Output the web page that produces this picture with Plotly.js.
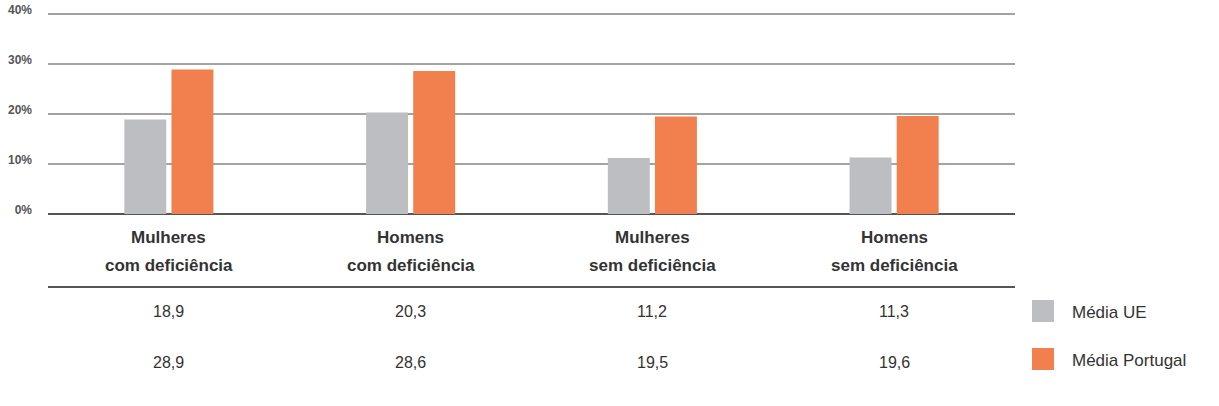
<!DOCTYPE html>
<html>
<head>
<meta charset="utf-8">
<script src="https://cdn.plot.ly/plotly-3.0.1.min.js"></script>
<style>html,body{margin:0;padding:0;background:#fff;}#chart{width:1219px;height:406px;}</style>
</head>
<body>
<div id="chart"></div>
<script>
const categories = ["Mulheres<br>com deficiência", "Homens<br>com deficiência", "Mulheres<br>sem deficiência", "Homens<br>sem deficiência"];
const seriesNames = ["Média UE", "Média Portugal"];
const mediaUE = [18.9, 20.3, 11.2, 11.3];
const mediaPortugal = [28.9, 28.6, 19.5, 19.6];
const yTickVals = [0, 10, 20, 30, 40];
const yTickText = ["0%", "10%", "20%", "30%", "40%"];

const colors = ["#bdbec1", "#f2804f"];
const textColor = "#333333";
const fontFam = "'Liberation Sans', Arial, sans-serif";

// pixel geometry of the plot area (range padded slightly so the 40% grid line is drawn)
const W = 1219, H = 406, L = 48, R = 1015, B = 214;
const yMax = 40.4;
const T = B - 5 * yMax; // 5 px per percentage point
const py = p => (B - p) / (B - T);
const px = p => (p - L) / (R - L);

const traces = [mediaUE, mediaPortugal].map((vals, i) => ({
  type: "bar",
  name: seriesNames[i],
  x: categories,
  y: vals,
  marker: {color: colors[i], line: {width: 0}},
  hoverinfo: "none",
  showlegend: false
}));

const annotations = [];
const fmt = v => v.toFixed(1).replace(".", ",");
categories.forEach((c, i) => {
  const lines = c.split("<br>");
  lines.forEach((ln, j) => {
    annotations.push({
      x: c, xref: "x", y: py(237 + j * 28), yref: "paper",
      text: ln, showarrow: false, xanchor: "center", yanchor: "middle",
      font: {family: fontFam, size: 17, color: textColor, weight: "bold"}
    });
  });
  [mediaUE, mediaPortugal].forEach((vals, k) => {
    annotations.push({
      x: c, xref: "x", y: py(k === 0 ? 311 : 362), yref: "paper",
      text: fmt(vals[i]), showarrow: false, xanchor: "center", yanchor: "middle",
      font: {family: fontFam, size: 16, color: textColor}
    });
  });
});
seriesNames.forEach((n, k) => {
  annotations.push({
    x: px(1070), xref: "paper", y: py(k === 0 ? 312 : 360), yref: "paper",
    text: n, showarrow: false, xanchor: "left", yanchor: "middle",
    font: {family: fontFam, size: 17, color: textColor}
  });
});

const shapes = [
  {type: "line", xref: "paper", yref: "paper", x0: 0, x1: 1, y0: py(287), y1: py(287),
   line: {color: "#555555", width: 2}},
  {type: "rect", xref: "paper", yref: "paper", x0: px(1032), x1: px(1054), y0: py(322), y1: py(300),
   fillcolor: colors[0], line: {width: 0}},
  {type: "rect", xref: "paper", yref: "paper", x0: px(1032), x1: px(1054), y0: py(370), y1: py(348),
   fillcolor: colors[1], line: {width: 0}}
];

const layout = {
  width: W, height: H,
  margin: {l: L, r: W - R, t: T, b: H - B, pad: 0},
  paper_bgcolor: "#ffffff", plot_bgcolor: "#ffffff",
  barmode: "group", bargap: 0.61, bargroupgap: 0.11,
  showlegend: false,
  xaxis: {showticklabels: false, showgrid: false, zeroline: false, showline: false, ticks: "", fixedrange: true},
  yaxis: {
    range: [0, yMax], tickvals: yTickVals, ticktext: yTickText,
    showgrid: true, gridcolor: "#a3a3a3", gridwidth: 1.5,
    zeroline: true, zerolinecolor: "#555555", zerolinewidth: 2.5,
    showline: false, ticks: "", ticklabelstandoff: 15, ticklabelshift: -4,
    tickfont: {family: fontFam, size: 12, color: "#555555", weight: "bold"},
    fixedrange: true
  },
  annotations: annotations,
  shapes: shapes
};

Plotly.newPlot("chart", traces, layout, {displayModeBar: false, staticPlot: true});
</script>
</body>
</html>
